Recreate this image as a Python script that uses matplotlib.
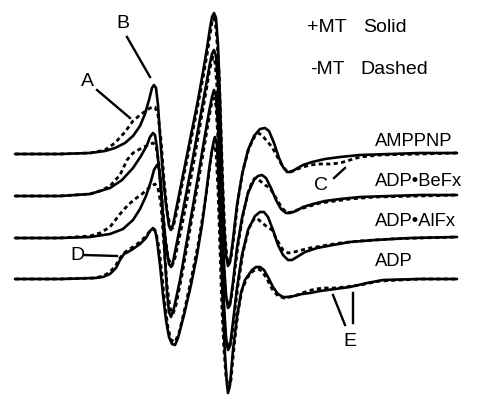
import matplotlib
matplotlib.use("Agg")
import matplotlib.pyplot as plt

# ---- data (x = field position, y = screen position of trace) ----
labels = ["AMPPNP", "ADP\u2022BeFx", "ADP\u2022AlFx", "ADP"]

amppnp_solid_x = [15, 60, 90, 105, 115, 125, 133, 140, 145, 149, 152, 154, 156, 158, 160, 163, 166, 169, 171, 173, 178, 185, 192, 198, 203, 207, 210, 212, 214, 216, 218, 220, 222, 224, 226, 228, 230, 233, 237, 242, 248, 254, 260, 265, 269, 274, 279, 283, 287, 291, 296, 303, 312, 325, 340, 360, 390, 420, 457]
amppnp_solid_y = [154, 154, 153, 151, 148, 143, 136, 126, 114, 100, 88, 85, 88, 105, 135, 175, 205, 226, 230, 225, 200, 165, 130, 100, 72, 48, 28, 17, 13, 18, 45, 100, 170, 225, 255, 266, 262, 240, 205, 175, 150, 136, 129, 128, 131, 143, 158, 167, 172, 172, 169, 165, 162, 159, 157, 155, 154, 153, 153]
amppnp_dash_x = [15, 60, 90, 105, 115, 125, 133, 140, 147, 152, 155, 158, 161, 164, 167, 170, 173, 176, 182, 190, 197, 203, 207, 210, 212, 214, 216, 219, 221, 223, 225, 227, 229, 231, 234, 238, 243, 249, 255, 258, 262, 266, 272, 278, 283, 288, 293, 300, 310, 320, 330, 340, 350, 360, 380, 420, 457]
amppnp_dash_y = [154, 154, 153, 150, 143, 132, 121, 115, 110, 107, 107, 115, 140, 180, 210, 226, 228, 215, 185, 145, 110, 78, 55, 35, 22, 18, 28, 70, 130, 190, 235, 258, 264, 258, 235, 200, 170, 148, 136, 133, 135, 140, 147, 158, 167, 172, 171, 168, 165, 164, 164, 163, 160, 157, 155, 154, 153]

befx_solid_x = [15, 60, 90, 110, 122, 133, 141, 147, 150, 153, 155, 157, 160, 163, 166, 169, 171, 173, 178, 185, 192, 198, 203, 207, 210, 212, 214, 216, 218, 220, 222, 224, 226, 228, 230, 233, 237, 242, 248, 254, 258, 262, 266, 271, 276, 281, 286, 290, 296, 303, 313, 325, 340, 360, 390, 420, 457]
befx_solid_y = [196, 196, 194, 188, 180, 168, 156, 145, 137, 133, 135, 148, 180, 215, 245, 264, 267, 262, 237, 200, 163, 130, 102, 80, 63, 54, 50, 56, 85, 140, 210, 265, 295, 308, 305, 282, 248, 218, 193, 180, 176, 175, 178, 188, 200, 209, 213, 213, 211, 207, 204, 201, 199, 197, 196, 195, 195]
befx_dash_x = [15, 60, 90, 100, 110, 120, 127, 133, 140, 148, 153, 156, 159, 162, 165, 168, 172, 175, 181, 188, 195, 201, 206, 209, 211, 213, 215, 218, 220, 222, 224, 226, 229, 231, 234, 238, 243, 248, 252, 255, 259, 265, 270, 276, 282, 287, 292, 300, 310, 320, 335, 350, 375, 420, 457]
befx_dash_y = [196, 196, 194, 191, 186, 175, 160, 153, 149, 145, 143, 146, 165, 200, 235, 258, 266, 258, 230, 195, 155, 120, 92, 74, 63, 57, 62, 100, 160, 225, 270, 298, 306, 300, 278, 245, 215, 193, 182, 178, 180, 185, 188, 198, 208, 213, 212, 209, 206, 203, 201, 199, 197, 196, 195]

alfx_solid_x = [15, 60, 90, 110, 123, 133, 140, 146, 151, 154, 157, 159, 161, 163, 165, 167, 169, 171, 174, 180, 187, 194, 200, 205, 209, 212, 214, 216, 218, 220, 222, 224, 226, 228, 230, 233, 237, 242, 248, 255, 260, 264, 268, 273, 278, 283, 288, 292, 297, 305, 317, 333, 350, 375, 410, 457]
alfx_solid_y = [238, 238, 237, 234, 229, 220, 209, 196, 181, 170, 165, 168, 185, 220, 260, 292, 312, 317, 308, 280, 240, 200, 165, 135, 112, 97, 90, 96, 125, 180, 250, 305, 338, 350, 346, 322, 288, 255, 230, 216, 212, 212, 217, 230, 245, 255, 260, 260, 257, 252, 248, 245, 242, 240, 238, 237]
alfx_dash_x = [15, 60, 90, 100, 110, 120, 128, 135, 142, 150, 155, 158, 161, 164, 167, 170, 173, 176, 182, 189, 196, 202, 207, 210, 212, 214, 216, 218, 220, 222, 224, 226, 229, 231, 234, 238, 243, 249, 254, 257, 261, 266, 272, 277, 283, 288, 294, 302, 310, 322, 340, 360, 390, 420, 457]
alfx_dash_y = [238, 238, 236, 233, 227, 214, 205, 199, 194, 187, 184, 188, 205, 245, 285, 308, 314, 305, 275, 235, 195, 160, 130, 112, 102, 98, 106, 140, 200, 265, 315, 340, 348, 342, 318, 285, 252, 228, 219, 218, 222, 226, 230, 240, 250, 253, 252, 250, 248, 246, 243, 241, 239, 238, 237]

adp_solid_x = [15, 60, 95, 103, 110, 116, 120, 124, 128, 133, 140, 146, 150, 153, 155, 157, 160, 163, 166, 169, 172, 175, 178, 184, 191, 197, 202, 206, 209, 212, 214, 215, 217, 219, 221, 223, 225, 227, 228, 230, 233, 237, 241, 245, 252, 256, 260, 264, 268, 273, 278, 283, 288, 294, 302, 310, 320, 335, 350, 367, 383, 420, 457]
adp_solid_y = [279, 279, 278, 277, 274, 268, 260, 254, 252, 249, 244, 238, 231, 228, 230, 240, 265, 295, 320, 337, 344, 345, 338, 315, 285, 255, 225, 195, 170, 150, 140, 137, 145, 190, 250, 310, 355, 385, 393, 385, 350, 317, 293, 280, 270, 267, 267, 270, 277, 287, 294, 297, 297, 296, 294, 293, 291, 289, 287, 283, 280, 279, 279]
adp_dash_x = [15, 60, 95, 103, 110, 116, 120, 124, 128, 133, 140, 146, 150, 153, 156, 159, 162, 165, 168, 171, 175, 179, 185, 192, 198, 203, 207, 210, 212, 214, 216, 218, 220, 222, 224, 226, 229, 231, 234, 238, 242, 247, 253, 258, 262, 267, 272, 278, 284, 290, 297, 305, 315, 325, 335, 345, 360, 380, 420, 457]
adp_dash_y = [279, 279, 278, 276, 272, 265, 258, 253, 250, 247, 242, 236, 231, 229, 232, 248, 275, 305, 328, 340, 342, 333, 308, 275, 245, 215, 188, 165, 150, 145, 152, 190, 250, 310, 350, 377, 388, 380, 347, 312, 290, 278, 271, 269, 271, 279, 289, 296, 298, 297, 295, 292, 289, 288, 288, 287, 285, 281, 279, 279]

solid_x = [amppnp_solid_x, befx_solid_x, alfx_solid_x, adp_solid_x]
solid_y = [amppnp_solid_y, befx_solid_y, alfx_solid_y, adp_solid_y]
dash_x = [amppnp_dash_x, befx_dash_x, alfx_dash_x, adp_dash_x]
dash_y = [amppnp_dash_y, befx_dash_y, alfx_dash_y, adp_dash_y]

# ---- figure ----
W, H = 479, 397
fig = plt.figure(figsize=(W / 100, H / 100), dpi=100)
ax = fig.add_axes([0, 0, 1, 1])
ax.set_xlim(0, W)
ax.set_ylim(H, 0)
ax.axis("off")

for sx, sy, dx, dy in zip(solid_x, solid_y, dash_x, dash_y):
    ax.plot(sx, sy, color="black", lw=1.9, solid_joinstyle="round", solid_capstyle="round")
    ax.plot(dx, dy, color="black", lw=2.0, linestyle=(0, (1.5, 1.2)))

font = dict(family="Liberation Sans", color="black")
ax.text(307, 27, "+MT", fontsize=14, va="center", ha="left", **font)
ax.text(363, 27, "Solid", fontsize=14, va="center", ha="left", **font)
ax.text(310, 70, "-MT", fontsize=14, va="center", ha="left", **font)
ax.text(360, 70, "Dashed", fontsize=14, va="center", ha="left", **font)

label_y = [141, 181, 221, 262]
for lab, ly in zip(labels, label_y):
    ax.text(375, ly, lab, fontsize=13.2, va="center", ha="left", **font)

# annotation letters and leader lines
ax.text(87, 82, "A", fontsize=14, va="center", ha="center", **font)
ax.plot([97, 130], [90, 118], color="black", lw=1.7)
ax.text(123, 23, "B", fontsize=14, va="center", ha="center", **font)
ax.plot([127, 150], [37, 77], color="black", lw=1.7)
ax.text(321, 185, "C", fontsize=14, va="center", ha="center", **font)
ax.plot([334, 345], [178, 168], color="black", lw=1.7)
ax.text(77, 255, "D", fontsize=14, va="center", ha="center", **font)
ax.plot([84, 117], [255, 256], color="black", lw=1.7)
ax.text(350, 342, "E", fontsize=14, va="center", ha="center", **font)
ax.plot([333, 345], [295, 325], color="black", lw=1.7)
ax.plot([353, 353], [293, 323], color="black", lw=1.7)

fig.savefig("out.png", dpi=100)
